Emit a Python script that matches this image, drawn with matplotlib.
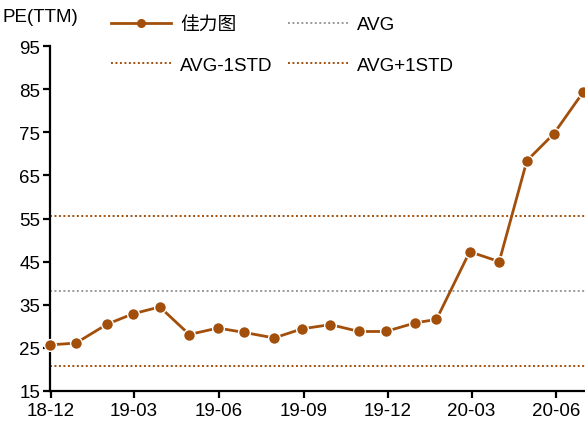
import pandas as pd
import matplotlib
matplotlib.use('Agg')
import matplotlib.pyplot as plt
from matplotlib.lines import Line2D

plt.rcParams['font.family'] = ['Liberation Sans', 'Noto Sans CJK SC', 'DejaVu Sans']

dates = pd.to_datetime([
    '2018-11-30', '2018-12-28', '2019-01-31', '2019-02-28', '2019-03-29',
    '2019-04-30', '2019-05-31', '2019-06-28', '2019-07-31', '2019-08-30',
    '2019-09-30', '2019-10-31', '2019-11-29', '2019-12-31', '2020-01-23',
    '2020-02-28', '2020-03-31', '2020-04-30', '2020-05-29', '2020-06-30'])
pe = [25.7, 26.1, 30.5, 32.9, 34.5, 28.1, 29.6, 28.6, 27.3, 29.4,
      30.4, 28.8, 28.8, 30.8, 31.6, 47.3, 45.0, 68.4, 74.6, 84.3]
avg = 38.3
avg_minus = 20.9
avg_plus = 55.5
tick_dates = pd.to_datetime(['2018-12-01', '2019-03-01', '2019-06-01', '2019-09-01',
                             '2019-12-01', '2020-03-01', '2020-06-01'])
tick_labels = ['18-12', '19-03', '19-06', '19-09', '19-12', '20-03', '20-06']

brown = '#A24F0B'
grey = '#999999'
dot = (0, (1, 1.3))
fs = 13.5

fig = plt.figure(figsize=(5.85, 4.27), dpi=100)
ax = fig.add_axes([50 / 585, 1 - 392 / 427, 535 / 585, 345 / 427])

ax.plot(dates, pe, color=brown, lw=2, marker='o', ms=8.5, mfc=brown,
        mec='white', mew=1, zorder=3, clip_on=False)
ax.axhline(avg, color=grey, ls=dot, lw=1.4)
ax.axhline(avg_minus, color=brown, ls=dot, lw=1.4)
ax.axhline(avg_plus, color=brown, ls=dot, lw=1.4)

ax.set_ylim(15, 95)
ax.set_yticks(range(15, 96, 10))
ax.set_xlim(pd.Timestamp('2018-11-30'), pd.Timestamp('2020-07-02'))
ax.set_xticks(tick_dates)
ax.set_xticklabels(tick_labels)

for s in ['top', 'right']:
    ax.spines[s].set_visible(False)
for s in ['left', 'bottom']:
    ax.spines[s].set_linewidth(1.6)
ax.tick_params(labelsize=fs, width=1.6, length=5)
ax.tick_params(axis='x', pad=3)
ax.tick_params(axis='y', pad=2)

fig.text(3 / 585, 1 - 18 / 427, 'PE(TTM)', fontsize=fs, va='center', ha='left')

handles = [
    Line2D([], [], color=brown, lw=2, marker='o', ms=5.5, mfc=brown, mec=brown),
    Line2D([], [], color=brown, ls=dot, lw=1.4),
    Line2D([], [], color=grey, ls=dot, lw=1.4),
    Line2D([], [], color=brown, ls=dot, lw=1.4),
]
labels = ['佳力图', 'AVG-1STD', 'AVG', 'AVG+1STD']
fig.legend(handles, labels, ncol=2, loc='upper left', bbox_to_anchor=(111 / 585, 1 - 17 / 427),
           frameon=False, fontsize=fs, handlelength=3.2, columnspacing=0.8,
           labelspacing=1.25, handletextpad=0.5, borderpad=0, borderaxespad=0)

fig.savefig('out.png', dpi=100)
